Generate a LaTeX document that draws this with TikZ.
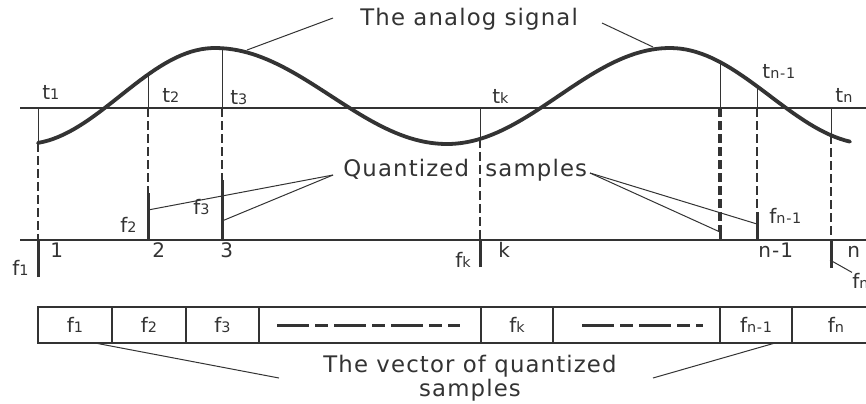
\documentclass[tikz,border=0pt]{standalone}
\usepackage{fontspec}
\setmainfont{DejaVu Sans}[LetterSpace=5]
\usetikzlibrary{positioning,calc}
\definecolor{ink}{HTML}{333333}
\newcommand{\ssub}[1]{{\fontsize{7.2}{8}\selectfont #1}}

\begin{document}
\begin{tikzpicture}[x=0.5pt, y=-0.5pt,
    declare function={
      sigphase(\t)=(\t<215) ? (\t-215)/190*180 : ((\t<447) ? (\t-215)/232*180 :
        ((\t<670) ? 180+(\t-447)/223*180 : 360+(\t-670)/200*180));
      sig(\t)=96-48*cos(sigphase(\t));
    },
    axis/.style={draw=ink, line width=0.6pt},
    signal/.style={draw=ink, line width=1.9pt, line cap=round},
    guide/.style={draw=ink, line width=0.5pt},
    proj/.style={draw=ink, line width=1pt, dash pattern=on 4.5pt off 2pt},
    projheavy/.style={draw=ink, line width=1.6pt, dash pattern=on 4.5pt off 2pt},
    sample/.style={draw=ink, line width=1.5pt},
    leader/.style={draw=ink, line width=0.5pt},
    lbl/.style={text=ink, font=\fontsize{10}{12}\selectfont, inner sep=0pt, anchor=base west},
    title/.style={text=ink, font=\fontsize{11.4}{11}\selectfont, inner sep=0pt, align=center},
    cell/.style={draw=ink, line width=0.6pt, minimum height=18pt, inner sep=0pt, outer sep=0pt,
      text=ink, font=\fontsize{10}{12}\selectfont},
    gapline/.style={draw=ink, line width=1.5pt}
  ]
    \useasboundingbox (0,0) rectangle (866,403);

    % time axis and sample axis
    \coordinate (tL) at (20,108);
    \coordinate (tR) at (880,108);
    \coordinate (sL) at (20,240);
    \coordinate (sR) at (880,240);
    \draw[axis] (tL) -- (tR);
    \draw[axis] (sL) -- (sR);

    % the signal
    \draw[signal] plot[domain=38:850, samples=160, variable=\t] (\t, {sig(\t)});

    % samples: name / x / quantized y / line style
    \foreach \n/\x/\q/\ps in {1/38/277/proj, 2/148/193/proj, 3/222/180/proj,
        k/480/267/proj, m/720/232/projheavy, n1/757/212/proj, n/831/268/proj} {
      \pgfmathsetmacro{\c}{sig(\x)}
      \pgfmathsetmacro{\ya}{max(\c,108)}
      \pgfmathsetmacro{\yb}{min(\q,240)}
      \coordinate (c\n) at (\x,\c);
      \coordinate (u\n) at (\x,108);
      \coordinate (d\n) at (\x,\ya);
      \coordinate (e\n) at (\x,\yb);
      \coordinate (q\n) at (\x,\q);
      \coordinate (l\n) at (\x,240);
      \draw[guide] (c\n) -- (u\n);
      \draw[\ps] (d\n) -- (e\n);
      \draw[sample] (q\n) -- (l\n);
    }

    % time labels
    \node[lbl] (lt1) at (42,99) {t\ssub{1}};
    \node[lbl] (lt2) at (162,102) {t\ssub{2}};
    \node[lbl] (lt3) at (230,104) {t\ssub{3}};
    \node[lbl] (ltk) at (492,103) {t\ssub{k}};
    \node[lbl] (ltn1) at (762,78) {t\ssub{n-1}};
    \node[lbl] (ltn) at (835,102) {t\ssub{n}};

    % index labels
    \node[lbl] (li1) at (50,257) {1};
    \node[lbl] (li2) at (152,257) {2};
    \node[lbl] (li3) at (220,257) {3};
    \node[lbl] (lik) at (498,257) {k};
    \node[lbl] (lin1) at (758,257) {n-1};
    \node[lbl] (lin) at (847,257) {n};

    % sample value labels
    \node[lbl] (lf1) at (12,275) {f\ssub{1}};
    \node[lbl] (lf2) at (120,232) {f\ssub{2}};
    \node[lbl] (lf3) at (193,214) {f\ssub{3}};
    \node[lbl] (lfk) at (455,267) {f\ssub{k}};
    \node[lbl] (lfn1) at (769,223) {f\ssub{n-1}};
    \node[lbl] (lfn) at (852,288) {f\ssub{n}};
    \coordinate (hn) at (830,260);
    \draw[leader] (hn) -- (lfn.north west);

    % analog signal callout
    \node[title, anchor=base west] (sig) at (360,25) {The analog signal};
    \coordinate (sigL) at (333,18);
    \coordinate (sigR) at (602,23);
    \coordinate (pk1) at (247,50);
    \coordinate (pk2) at (653,47);
    \draw[leader] (sigL) -- (pk1);
    \draw[leader] (sigR) -- (pk2);

    % quantized samples callout
    \node[title, anchor=base west] (qs) at (343,176) {Quantized\hspace{4pt} samples};
    \coordinate (qsL) at (333,175);
    \coordinate (qsR) at (590,173);
    \coordinate (h2) at (148,210);
    \coordinate (h3) at (222,221);
    \coordinate (hm) at (720,232);
    \coordinate (hn1) at (757,224);
    \draw[leader] (qsL) -- (h2);
    \draw[leader] (qsL) -- (h3);
    \draw[leader] (qsR) -- (hm);
    \draw[leader] (qsR) -- (hn1);

    % vector of quantized samples
    \node[cell, minimum width=37pt, anchor=north west] (v1) at (38,307) {f\ssub{1}};
    \node[cell, minimum width=37pt, right=0pt of v1] (v2) {f\ssub{2}};
    \node[cell, minimum width=36.5pt, right=0pt of v2] (v3) {f\ssub{3}};
    \node[cell, minimum width=111pt, right=0pt of v3] (v4) {};
    \node[cell, minimum width=36pt, right=0pt of v4] (v5) {f\ssub{k}};
    \node[cell, minimum width=83.5pt, right=0pt of v5] (v6) {};
    \node[cell, minimum width=36pt, right=0pt of v6] (v7) {f\ssub{n-1}};
    \node[cell, minimum width=44pt, right=0pt of v7] (v8) {f\ssub{n}};

    \draw[gapline, dash pattern=on 16pt off 3pt on 6.5pt off 3pt on 16pt off 3pt on 6.5pt off 3pt
      on 16pt off 3pt on 6.5pt off 3pt on 6.5pt off 3pt]
      ([xshift=9pt]v4.west) -- ([xshift=-10.5pt]v4.east);
    \draw[gapline, dash pattern=on 16pt off 3pt on 6.5pt off 3pt on 16pt off 3pt on 6.5pt off 3pt
      on 6.5pt off 3pt]
      ([xshift=14.5pt]v6.west) -- ([xshift=-8.5pt]v6.east);

    \node[title, anchor=north] (vec) at (470,355) {The vector of quantized\\samples};
    \coordinate (vecL) at (279,378);
    \coordinate (vecR) at (653,378);
    \draw[leader] ([xshift=10pt]v1.south) -- (vecL);
    \draw[leader] ([xshift=9.5pt]v7.south) -- (vecR);
  \end{tikzpicture}
\end{document}
